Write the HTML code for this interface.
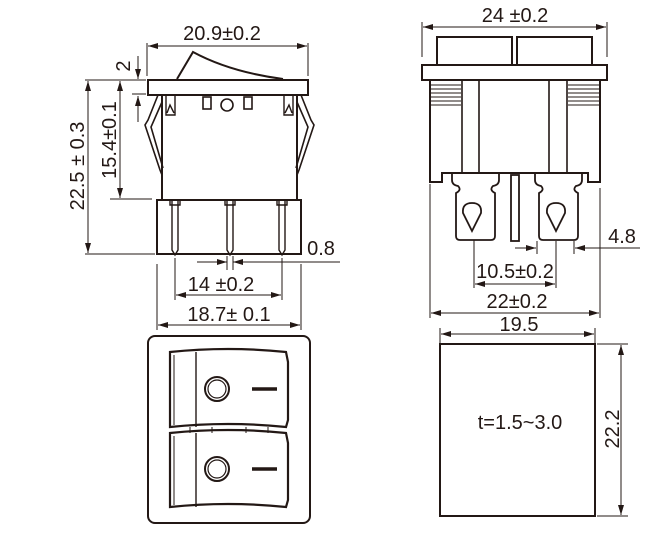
<!DOCTYPE html>
<html><head><meta charset="utf-8"><style>
html,body{margin:0;padding:0;background:#fff;}
svg{display:block;}
text{font-family:"Liberation Sans",sans-serif;font-size:20px;fill:#231815;}
</style></head><body>
<svg width="650" height="533" viewBox="0 0 650 533" xmlns="http://www.w3.org/2000/svg">
<defs>
<marker id="a" viewBox="0 0 10 6" refX="10" refY="3" markerWidth="10" markerHeight="6" orient="auto-start-reverse" markerUnits="userSpaceOnUse"><path d="M0,0 L10,3 L0,6 z" fill="#231815"/></marker>
</defs>
<g stroke="#231815" fill="none" stroke-width="2">
<path d="M177,79 L193,52 Q230,72 283,79"/>
<rect x="148" y="80" width="160" height="15" fill="#fff"/>
<rect x="162" y="95" width="135" height="105"/>
<rect x="157" y="200" width="144" height="54"/>
<rect x="203" y="97" width="8" height="12" stroke-width="1.6"/>
<rect x="244" y="97" width="8" height="12" stroke-width="1.6"/>
<circle cx="227" cy="105" r="6" stroke-width="1.6"/>
<path d="M166,95 V115 H175 V95 M167,113 L170,105 L174,113" stroke-width="1.4"/>
<path d="M284,95 V115 H293 V95 M285,113 L289,105 L292,113" stroke-width="1.4"/>
<path d="M158,95 L148,120 L145,125 L160,170 L162,175 M162,102 L151,127 L163,168" stroke-width="1.6"/>
<path d="M301,95 L311,120 L314,125 L299,170 L297,175 M297,102 L308,127 L296,168" stroke-width="1.6"/>
<g stroke-width="1.4">
<path d="M172,200 V250 L175,255 L178,250 V200 M170,200 V205 H180 V200"/>
<path d="M227,200 V250 L230,255 L233,250 V200 M225,200 V205 H235 V200"/>
<path d="M279,200 V250 L282,255 L285,250 V200 M277,200 V205 H287 V200"/>
</g>
</g>
<g stroke="#231815" stroke-width="1" fill="none">
<line x1="147" y1="43" x2="147" y2="76"/><line x1="308" y1="43" x2="308" y2="76"/>
<line x1="148" y1="46" x2="307" y2="46" marker-start="url(#a)" marker-end="url(#a)"/>
<line x1="138" y1="56" x2="138" y2="79" marker-end="url(#a)"/><line x1="138" y1="96" x2="138" y2="122" marker-start="url(#a)"/>
<line x1="132" y1="94" x2="146" y2="94"/>
<line x1="85" y1="80" x2="146" y2="80"/>
<line x1="85" y1="254" x2="155" y2="254"/>
<line x1="88" y1="81" x2="88" y2="253" marker-start="url(#a)" marker-end="url(#a)"/>
<line x1="120" y1="81" x2="120" y2="198" marker-start="url(#a)" marker-end="url(#a)"/>
<line x1="110" y1="199" x2="152" y2="199"/>
<line x1="197" y1="262" x2="227" y2="262" marker-end="url(#a)"/>
<line x1="233" y1="262" x2="340" y2="262" marker-start="url(#a)"/>
<line x1="227" y1="256" x2="227" y2="270"/><line x1="233" y1="256" x2="233" y2="270"/>
<line x1="175" y1="258" x2="175" y2="300"/><line x1="282" y1="258" x2="282" y2="300"/>
<line x1="176" y1="295" x2="281" y2="295" marker-start="url(#a)" marker-end="url(#a)"/>
<line x1="157" y1="264" x2="157" y2="330"/><line x1="301" y1="264" x2="301" y2="330"/>
<line x1="158" y1="325" x2="300" y2="325" marker-start="url(#a)" marker-end="url(#a)"/>
</g>
<text x="222" y="40" text-anchor="middle">20.9±0.2</text>
<text transform="translate(130,66) rotate(-90)" text-anchor="middle">2</text>
<text transform="translate(84,166) rotate(-90)" text-anchor="middle">22.5 ± 0.3</text>
<text transform="translate(116,140) rotate(-90)" text-anchor="middle">15.4±0.1</text>
<text x="321" y="255" text-anchor="middle">0.8</text>
<text x="221" y="291" text-anchor="middle">14 ±0.2</text>
<text x="229" y="321" text-anchor="middle">18.7± 0.1</text>

<g stroke="#231815" fill="none" stroke-width="2">
<rect x="148" y="336" width="162" height="187" rx="7"/>
<path d="M170,352 Q228,346 286,352 L288,362 V420 L286,427 Q228,421 170,427 Z" stroke-width="2.2"/>
<path d="M170,433 Q228,427 286,433 L288,443 V500 L286,507 Q228,501 170,507 Z" stroke-width="2.2"/>
<line x1="196" y1="352" x2="196" y2="427" stroke-width="1.4"/>
<line x1="196" y1="433" x2="196" y2="507" stroke-width="1.4"/>
<line x1="174" y1="355" x2="174" y2="425" stroke-width="1"/>
<line x1="174" y1="436" x2="174" y2="505" stroke-width="1"/>
<circle cx="217" cy="389" r="12"/><circle cx="217" cy="389" r="9" stroke-width="1.2"/>
<circle cx="217" cy="469" r="12"/><circle cx="217" cy="469" r="9" stroke-width="1.2"/>
<line x1="252" y1="389" x2="277" y2="389" stroke-width="3.5"/>
<line x1="252" y1="469" x2="277" y2="469" stroke-width="3.5"/>
<path d="M190,427 V433 M212,427 V433 M246,427 V433 M268,427 V433" stroke-width="1"/>
</g>

<g stroke="#231815" fill="none" stroke-width="2">
<rect x="437" y="37" width="75" height="28"/>
<rect x="517" y="37" width="75" height="28"/>
<rect x="422" y="65" width="185" height="15" fill="#fff"/>
<path d="M430,80 V182 H442 V173 H588 V182 H600 V80"/>
<path d="M462,80 V173 M479,80 V173 M549,80 V173 M567,80 V173" stroke-width="1.6"/>
<g stroke-width="1"><path d="M431,85H461M431,89H461M431,93H461M431,97H461M431,101H461M431,105H461"/>
<path d="M568,85H599M568,89H599M568,93H599M568,97H599M568,101H599M568,105H599"/></g>
<path d="M452,173 V180 Q452,185 458,186 Q462,190 456,193 V236 Q456,240 460,240 H491 Q495,240 495,236 V193 Q489,190 493,186 Q499,185 499,180 V173" stroke-width="1.8"/>
<path d="M535,173 V180 Q535,185 541,186 Q545,190 539,193 V236 Q539,240 543,240 H574 Q578,240 578,236 V193 Q572,190 576,186 Q582,185 582,180 V173" stroke-width="1.8"/>
<rect x="511" y="175" width="8" height="66" stroke-width="1.8"/>
<path d="M472,203 Q482,203 481,213 L472,231 L463,213 Q462,203 472,203 Z" stroke-width="1.8"/>
<path d="M556,203 Q566,203 565,213 L556,231 L547,213 Q546,203 556,203 Z" stroke-width="1.8"/>
<rect x="440" y="344" width="155" height="172"/>
</g>
<g stroke="#231815" stroke-width="1" fill="none">
<line x1="422" y1="22" x2="422" y2="57"/><line x1="607" y1="22" x2="607" y2="57"/>
<line x1="423" y1="27" x2="606" y2="27" marker-start="url(#a)" marker-end="url(#a)"/>
<line x1="515" y1="248" x2="536" y2="248" marker-end="url(#a)"/>
<line x1="575" y1="248" x2="640" y2="248" marker-start="url(#a)"/>
<line x1="537" y1="241" x2="537" y2="254"/><line x1="574" y1="241" x2="574" y2="254"/>
<line x1="474" y1="240" x2="474" y2="288"/><line x1="556" y1="241" x2="556" y2="288"/>
<line x1="475" y1="284" x2="555" y2="284" marker-start="url(#a)" marker-end="url(#a)"/>
<line x1="430" y1="184" x2="430" y2="318"/><line x1="600" y1="188" x2="600" y2="318"/>
<line x1="431" y1="313" x2="599" y2="313" marker-start="url(#a)" marker-end="url(#a)"/>
<line x1="440" y1="328" x2="440" y2="343"/><line x1="595" y1="328" x2="595" y2="343"/>
<line x1="441" y1="334" x2="594" y2="334" marker-start="url(#a)" marker-end="url(#a)"/>
<line x1="597" y1="344" x2="628" y2="344"/><line x1="597" y1="516" x2="628" y2="516"/>
<line x1="621" y1="345" x2="621" y2="515" marker-start="url(#a)" marker-end="url(#a)"/>
</g>
<text x="515" y="22" text-anchor="middle">24 ±0.2</text>
<text x="622" y="243" text-anchor="middle">4.8</text>
<text x="515" y="278" text-anchor="middle">10.5±0.2</text>
<text x="517" y="308" text-anchor="middle">22±0.2</text>
<text x="519" y="331" text-anchor="middle">19.5</text>
<text x="520" y="429" text-anchor="middle">t=1.5~3.0</text>
<text transform="translate(619,429) rotate(-90)" text-anchor="middle">22.2</text>
</svg>
</body></html>
